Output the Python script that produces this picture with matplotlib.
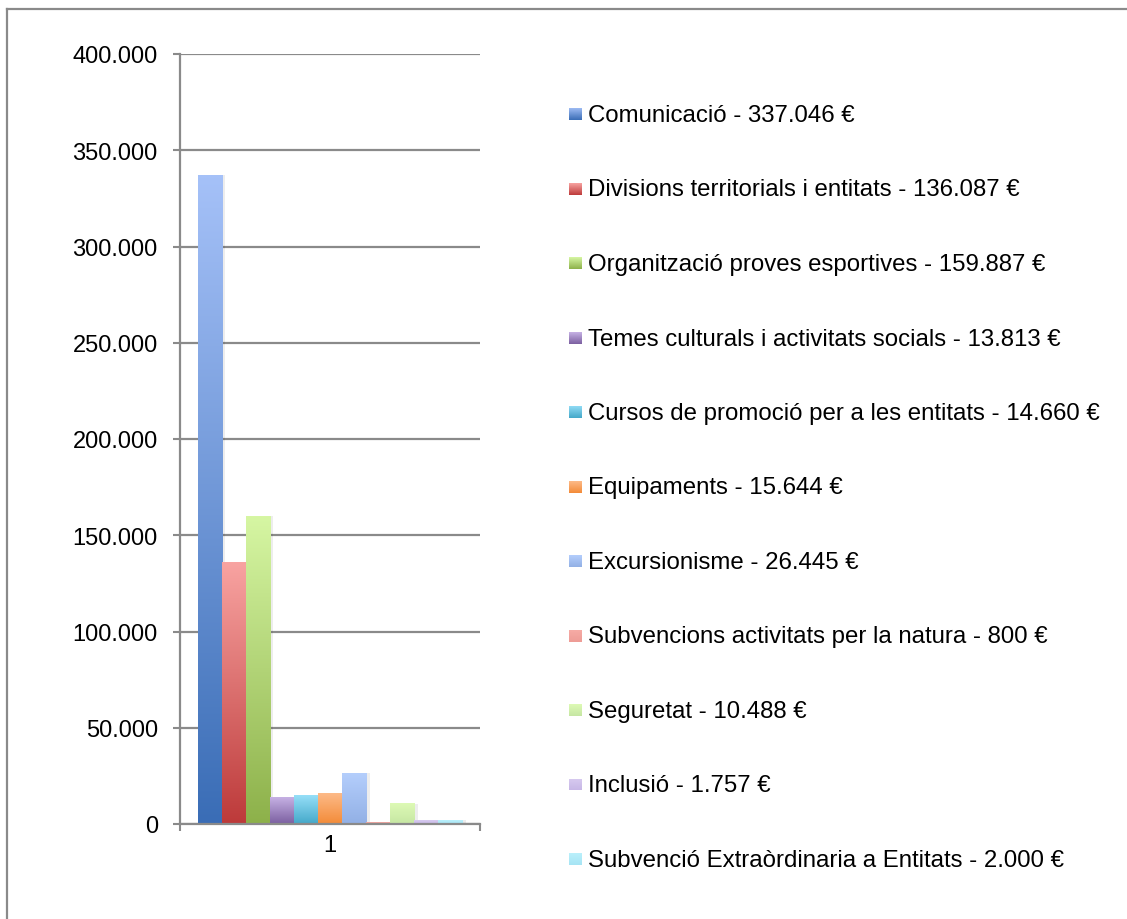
import numpy as np
import matplotlib
matplotlib.use("Agg")
import matplotlib.pyplot as plt
from matplotlib.colors import to_rgb
from matplotlib.patches import Rectangle
from matplotlib.lines import Line2D

plt.rcParams['font.family'] = ['Liberation Sans', 'DejaVu Sans']

# dades
categories = ["Comunicació", "Divisions territorials i entitats", "Organització proves esportives",
              "Temes culturals i activitats socials", "Cursos de promoció per a les entitats",
              "Equipaments", "Excursionisme", "Subvencions activitats per la natura",
              "Seguretat", "Inclusió", "Subvenció Extraòrdinaria a Entitats"]
valors = [337046, 136087, 159887, 13813, 14660, 15644, 26445, 800, 10488, 1757, 2000]
valors_txt = ["337.046", "136.087", "159.887", "13.813", "14.660", "15.644",
              "26.445", "800", "10.488", "1.757", "2.000"]
yticks = [0, 50000, 100000, 150000, 200000, 250000, 300000, 350000, 400000]
ytick_labels = ["0", "50.000", "100.000", "150.000", "200.000", "250.000",
                "300.000", "350.000", "400.000"]

# colors (dalt, baix) del degradat
col_dalt = ["#A5C1F8", "#F8A3A1", "#D6F6A3", "#C6B1E4", "#96DFF8", "#FDBA88",
            "#B4CEFC", "#F6ABA5", "#DDFAB5", "#D8CBF0", "#BAF0FB"]
col_baix = ["#3A6DB6", "#BD3A3A", "#8DB14A", "#7B5FA0", "#44A8C9", "#F38B38",
            "#92B0E5", "#EE9C96", "#C6E6A3", "#C7B7E6", "#A6E4F4"]


def degradat(c_top, c_bot, n=128):
    t = np.linspace(0, 1, n)[:, None]
    a = np.array(to_rgb(c_bot))
    b = np.array(to_rgb(c_top))
    return (a + (b - a) * t)[:, None, :]


fig = plt.figure(figsize=(11.27, 9.2), dpi=100)
W, H = 1127, 920
ax = fig.add_axes([180 / W, 1 - 825 / H, 300 / W, 770 / H])

n = len(valors)
amplada_grup = 265 / 300
w = amplada_grup / n
x0 = -amplada_grup / 2

for i, v in enumerate(valors):
    xl = x0 + i * w
    # ombra suau a la dreta
    ax.add_patch(Rectangle((xl + w * 0.15, 0), w, v, color="black",
                           alpha=0.07, lw=0, zorder=2))
    ax.imshow(degradat(col_dalt[i], col_baix[i]), extent=[xl, xl + w, 0, v],
              origin="lower", aspect="auto", zorder=3, interpolation="bilinear")

ax.set_xlim(-0.5, 0.5)
ax.set_ylim(0, 400000)

ax.set_yticks(yticks)
ax.set_yticklabels(ytick_labels)
ax.yaxis.grid(True, color="#8a8a8a", lw=1.6, zorder=1)
ax.set_axisbelow(True)

ax.set_xticks([-0.5, 0.5])
ax.set_xticklabels(["", ""])
ax.set_xticks([0], minor=True)
ax.set_xticklabels(["1"], minor=True)
ax.tick_params(axis="x", which="minor", length=0, pad=7, labelsize=17)
ax.tick_params(axis="x", which="major", length=5, width=1.5, color="#8a8a8a", direction="out")
ax.tick_params(axis="y", length=5, width=1.5, color="#8a8a8a", pad=11, labelsize=17)

for s in ["top", "right"]:
    ax.spines[s].set_visible(False)
for s in ["left", "bottom"]:
    ax.spines[s].set_color("#8a8a8a")
    ax.spines[s].set_linewidth(1.6)
    ax.spines[s].set_zorder(4)

# llegenda
y_ini = 116
pas = 74.5
for i, nom in enumerate(categories):
    yc = y_ini + i * pas
    sq = fig.add_axes([569 / W, 1 - (yc + 5) / H, 13 / W, 12 / H])
    sq.imshow(degradat(col_dalt[i], col_baix[i]), origin="lower", aspect="auto")
    sq.set_axis_off()
    fig.text(588 / W, 1 - yc / H, f"{nom} - {valors_txt[i]} €", fontsize=17.3,
             ha="left", va="center")

# marc exterior
fig.add_artist(Line2D([6.5 / W, 6.5 / W], [0, 1 - 10 / H], color="#8a8a8a", lw=1.6))
fig.add_artist(Line2D([6.5 / W, 1], [1 - 10 / H, 1 - 10 / H], color="#8a8a8a", lw=1.6))

fig.savefig("out.png", dpi=100)
